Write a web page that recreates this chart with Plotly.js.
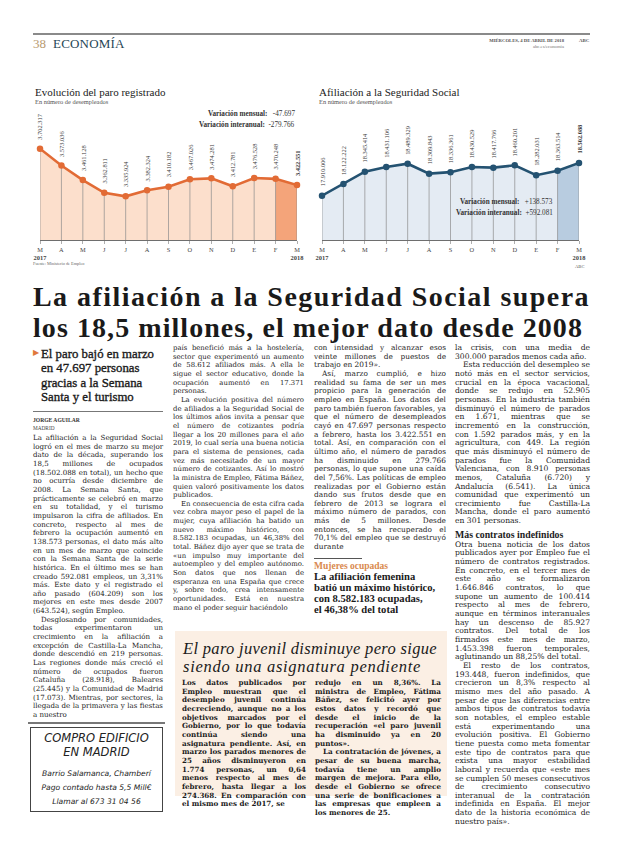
<!DOCTYPE html>
<html lang="es"><head><meta charset="utf-8">
<script src="https://cdn.plot.ly/plotly-3.0.1.min.js"></script>
<style>
html,body{margin:0;padding:0;background:#fff;}
body{width:620px;height:846px;position:relative;overflow:hidden;font-family:'Liberation Serif',serif;color:#222;}
.abs{position:absolute;}
.col{position:absolute;font-family:'DejaVu Serif',serif;font-size:7.05px;line-height:8.65px;text-align:justify;hyphens:auto;-webkit-hyphens:auto;color:#1c1c1c;}
.col p{margin:0;text-indent:8px;}
.col p.ni{text-indent:0;}
.fit{white-space:nowrap;position:absolute;}
.chart{position:absolute;}
</style></head><body>

<!-- header -->
<div class="abs" style="left:33px;top:33px;width:557px;height:1.5px;background:#8a8a8a;"></div>
<div class="abs" style="left:33px;top:36px;font-size:13px;color:#b89a6e;">38</div>
<div class="abs" style="left:53px;top:36px;font-size:13px;color:#1f4656;letter-spacing:0.2px;">ECONOMÍA</div>
<div class="abs" style="left:465px;top:38px;width:99px;text-align:right;font-size:4.7px;font-weight:bold;color:#555;">MIÉRCOLES, 4 DE ABRIL DE 2018</div>
<div class="abs" style="left:579px;top:38px;font-size:4.9px;font-weight:bold;color:#555;">ABC</div>
<div class="abs" style="left:465px;top:44px;width:99px;text-align:right;font-size:4.7px;color:#777;">abc.es/economia</div>

<div id="c1" class="chart" style="left:0;top:80px;width:310px;height:190px;"></div>
<div id="c2" class="chart" style="left:310px;top:80px;width:310px;height:190px;"></div>
<div class="abs" style="left:33px;top:261px;font-size:4.3px;color:#666;">Fuente: Ministerio de Empleo</div>

<!-- headline -->
<div class="fit" data-w="557" style="left:33px;top:281px;font-weight:bold;font-size:28px;line-height:31px;color:#1a1a1a;">La afiliación a la Seguridad Social supera</div>
<div class="fit" data-w="550" style="left:33px;top:312px;font-weight:bold;font-size:28px;line-height:31px;color:#1a1a1a;">los 18,5 millones, el mejor dato desde 2008</div>

<!-- subhead -->
<div class="abs" style="left:33px;top:348px;font-size:8px;color:#e0783c;">&#9654;</div>
<div class="abs" style="left:41px;top:347px;width:124px;font-size:12.8px;line-height:14.4px;color:#1a1a1a;-webkit-text-stroke:0.35px #1a1a1a;">El paro bajó en marzo<br>en 47.697 personas<br>gracias a la Semana<br>Santa y el turismo</div>
<div class="abs" style="left:33px;top:411px;width:130px;height:1px;background:#777;"></div>
<div class="abs" style="left:33px;top:417px;font-size:5.6px;font-weight:bold;color:#333;">JORGE AGUILAR</div>
<div class="abs" style="left:33px;top:425px;font-size:5.3px;color:#444;">MADRID</div>

<div class="col" style="left:33px;top:434px;width:130px;">
<p class="ni">La afiliación a la Seguridad Social logró en el mes de marzo su mejor dato de la década, superando los 18,5 millones de ocupados (18.502.088 en total), un hecho que no ocurría desde diciembre de 2008. La Semana Santa, que prácticamente se celebró en marzo en su totalidad, y el turismo impulsaron la cifra de afiliados. En concreto, respecto al mes de febrero la ocupación aumentó en 138.573 personas, el dato más alto en un mes de marzo que coincide con la Semana Santa de la serie histórica. En el último mes se han creado 592.081 empleos, un 3,31% más. Este dato y el registrado el año pasado (604.209) son los mejores en este mes desde 2007 (643.524), según Empleo.</p>
<p>Desglosando por comunidades, todas experimentaron un crecimiento en la afiliación a excepción de Castilla-La Mancha, donde descendió en 219 personas. Las regiones donde más creció el número de ocupados fueron Cataluña (28.918), Baleares (25.445) y la Comunidad de Madrid (17.073). Mientras, por sectores, la llegada de la primavera y las fiestas a nuestro</p>
</div>

<div class="col" style="left:173px;top:344px;width:131px;font-size:6.9px;">
<p class="ni">país benefició más a la hostelería, sector que experimentó un aumento de 58.612 afiliados más. A ella le sigue el sector educativo, donde la ocupación aumentó en 17.371 personas.</p>
<p>La evolución positiva del número de afiliados a la Seguridad Social de los últimos años invita a pensar que el número de cotizantes podría llegar a los 20 millones para el año 2019, lo cual sería una buena noticia para el sistema de pensiones, cada vez más necesitado de un mayor número de cotizantes. Así lo mostró la ministra de Empleo, Fátima Báñez, quien valoró positivamente los datos publicados.</p>
<p>En consecuencia de esta cifra cada vez cobra mayor peso el papel de la mujer, cuya afiliación ha batido un nuevo máximo histórico, con 8.582.183 ocupadas, un 46,38% del total. Báñez dijo ayer que se trata de «un impulso muy importante del autoempleo y del empleo autónomo. Son datos que nos llenan de esperanza en una España que crece y, sobre todo, crea intensamente oportunidades. Está en nuestra mano el poder seguir haciéndolo</p>
</div>

<div class="col" style="left:314px;top:344px;width:132px;font-size:7.4px;">
<p class="ni">con intensidad y alcanzar esos veinte millones de puestos de trabajo en 2019».</p>
<p>Así, marzo cumplió, e hizo realidad su fama de ser un mes propicio para la generación de empleo en España. Los datos del paro también fueron favorables, ya que el número de desempleados cayó en 47.697 personas respecto a febrero, hasta los 3.422.551 en total. Así, en comparación con el último año, el número de parados ha disminuido en 279.766 personas, lo que supone una caída del 7,56%. Las políticas de empleo realizadas por el Gobierno están dando sus frutos desde que en febrero de 2013 se lograra el máximo número de parados, con más de 5 millones. Desde entonces, se ha recuperado el 70,1% del empleo que se destruyó durante</p>
</div>
<div class="abs" style="left:314px;top:558px;width:48px;height:1px;background:#555;"></div>
<div class="abs" style="left:314px;top:561px;font-size:9.5px;font-weight:bold;color:#d9894e;">Mujeres ocupadas</div>
<div class="abs" style="left:314px;top:571px;width:135px;font-size:10.6px;line-height:11px;font-weight:bold;color:#1a1a1a;">La afiliación femenina<br>batió un máximo histórico,<br>con 8.582.183 ocupadas,<br>el 46,38% del total</div>

<div class="col" style="left:455px;top:344px;width:135px;font-size:7.6px;">
<p class="ni">la crisis, con una media de 300.000 parados menos cada año.</p>
<p>Esta reducción del desempleo se notó más en el sector servicios, crucial en la época vacacional, donde se redujo en 52.905 personas. En la industria también disminuyó el número de parados en 1.671, mientras que se incrementó en la construcción, con 1.592 parados más, y en la agricultura, con 449. La región que más disminuyó el número de parados fue la Comunidad Valenciana, con 8.910 personas menos, Cataluña (6.720) y Andalucía (6.541). La única comunidad que experimentó un crecimiento fue Castilla-La Mancha, donde el paro aumentó en 301 personas.</p>
<p class="ni" style="font-family:'Liberation Serif';font-weight:bold;font-size:9.8px;line-height:12px;margin-top:3px;">Más contratos indefinidos</p>
<p class="ni">Otra buena noticia de los datos publicados ayer por Empleo fue el número de contratos registrados. En concreto, en el tercer mes de este año se formalizaron 1.646.846 contratos, lo que supone un aumento de 100.414 respecto al mes de febrero, aunque en términos interanuales hay un descenso de 85.927 contratos. Del total de los firmados este mes de marzo, 1.453.398 fueron temporales, aglutinando un 88,25% del total.</p>
<p>El resto de los contratos, 193.448, fueron indefinidos, que crecieron un 8,3% respecto al mismo mes del año pasado. A pesar de que las diferencias entre ambos tipos de contratos todavía son notables, el empleo estable está experimentando una evolución positiva. El Gobierno tiene puesta como meta fomentar este tipo de contratos para que exista una mayor estabilidad laboral y recuerda que «este mes se cumplen 50 meses consecutivos de crecimiento consecutivo interanual de la contratación indefinida en España. El mejor dato de la historia económica de nuestro país».</p>
</div>

<!-- box -->
<div class="abs" style="left:175px;top:631px;width:272px;height:165px;background:#fbefe4;"></div>
<div class="fit" data-w="254" style="left:183px;top:640px;font-style:italic;font-size:16.5px;line-height:18px;color:#1a1a1a;">El paro juvenil disminuye pero sigue</div>
<div class="fit" data-w="238" style="left:183px;top:658px;font-style:italic;font-size:16.5px;line-height:18px;color:#1a1a1a;">siendo una asignatura pendiente</div>
<div class="col" style="left:182px;top:679px;width:124px;font-weight:bold;font-size:7.15px;">
<p class="ni">Los datos publicados por Empleo muestran que el desempleo juvenil continúa decreciendo, aunque no a los objetivos marcados por el Gobierno, por lo que todavía continúa siendo una asignatura pendiente. Así, en marzo los parados menores de 25 años disminuyeron en 1.774 personas, un 0,64 menos respecto al mes de febrero, hasta llegar a los 274.368. En comparación con el mismo mes de 2017, se</p>
</div>
<div class="col" style="left:315px;top:679px;width:126px;font-weight:bold;font-size:7.15px;">
<p class="ni">redujo en un 8,36%. La ministra de Empleo, Fátima Báñez, se felicitó ayer por estos datos y recordó que desde el inicio de la recuperación «el paro juvenil ha disminuido ya en 20 puntos».</p>
<p>La contratación de jóvenes, a pesar de su buena marcha, todavía tiene un amplio margen de mejora. Para ello, desde el Gobierno se ofrece una serie de bonificaciones a las empresas que empleen a los menores de 25.</p>
</div>

<!-- ad -->
<div class="abs" style="left:28px;top:722px;width:137px;height:1.5px;background:#777;"></div>
<div class="abs" style="left:30px;top:727px;width:133px;height:85px;border:1.5px solid #444;box-sizing:border-box;"></div>
<div class="abs" style="left:30px;top:731px;width:133px;text-align:center;font-family:'DejaVu Sans';font-style:italic;font-size:11.5px;line-height:14px;color:#222;">COMPRO EDIFICIO<br>EN MADRID</div>
<div class="abs" style="left:30px;top:767px;width:133px;text-align:center;font-family:'DejaVu Sans';font-style:italic;font-size:7.6px;line-height:14px;color:#222;">Barrio Salamanca, Chamberí<br>Pago contado hasta 5,5 Mill€<br>Llamar al 673 31 04 56</div>

<script>
// ---------- data ----------
const monthTicks = ['M<br><b>2017</b>','A','M','J','J','A','S','O','N','D','E','F','M<br><b>2018</b>'];
const paroValues = [3702317, 3573036, 3461128, 3362811, 3335924, 3382324, 3410182, 3467026, 3474281, 3412781, 3476528, 3470248, 3422551];
const afiliacionValues = [17910006, 18122222, 18345414, 18431106, 18489329, 18309843, 18336361, 18430529, 18417766, 18460201, 18282031, 18363514, 18502088];
const paroVariacion = ['-47.697', '-279.766'];
const afiliacionVariacion = ['+138.573', '+592.081'];
const paroRange = [3000000, 4000000];
const afiliacionRange = [17110000, 19460000];

function fmt(v){ return String(v).replace(/\B(?=(\d{3})+(?!\d))/g, '.'); }
const FONT = 'Liberation Serif, serif';

function build(div, values, range, c, variacion, varPos, title, sub, titleX, mar, extra){
  const idx = values.map((_, i) => i);
  const n = values.length;
  const traces = [
    {x: idx, y: values, type:'scatter', mode:'lines', fill:'tozeroy', fillcolor:c.fill, line:{width:0}, hoverinfo:'skip'},
    {x: idx.slice(n-2), y: values.slice(n-2), type:'scatter', mode:'lines', fill:'tozeroy', fillcolor:c.hi, line:{width:0}, hoverinfo:'skip'},
    {x: idx, y: values, type:'scatter', mode:'markers', marker:{size:0.1, opacity:0},
      error_y:{type:'data', symmetric:false, array: values.map(() => 0), arrayminus: values.map(v => v - range[0]), width:0, thickness:0.7, color:'#8c8c8c'}},
    {x: idx, y: values, type:'scatter', mode:'lines+markers', line:{color:c.line, width:2.6}, marker:{color:c.line, size:6.5}, cliponaxis:false}
  ];
  const ann = values.map((v, i) => ({
    x:i, y:v, xref:'x', yref:'y', text: i === n-1 ? '<b>'+fmt(v)+'</b>' : fmt(v), textangle:-90,
    showarrow:false, xanchor:'center', yanchor:'bottom', yshift:7,
    font:{family:FONT, size:6.4, color:'#3a3a3a'}
  }));
  ann.push({xref:'paper', yref:'paper', x:titleX, y:1.135, xanchor:'left', yanchor:'middle', showarrow:false,
    text:title, font:{family:FONT, size:11, color:'#222'}});
  ann.push({xref:'paper', yref:'paper', x:titleX, y:1.065, xanchor:'left', yanchor:'middle', showarrow:false,
    text:sub, font:{family:FONT, size:6.4, color:'#555'}});
  ann.push({xref:'paper', yref:'paper', x:varPos[0], y:varPos[1], xanchor:'right', yanchor:'middle', showarrow:false, align:'right',
    text:'<b>Variación mensual:</b>   '+variacion[0], font:{family:FONT, size:7.2, color:'#333'}});
  ann.push({xref:'paper', yref:'paper', x:varPos[0], y:varPos[1]-0.085, xanchor:'right', yanchor:'middle', showarrow:false, align:'right',
    text:'<b>Variación interanual:</b>  '+variacion[1], font:{family:FONT, size:7.2, color:'#333'}});
  (extra || []).forEach(a => ann.push(a));
  const layout = {
    width:310, height:190, margin:mar, paper_bgcolor:'rgba(0,0,0,0)', plot_bgcolor:'rgba(0,0,0,0)', showlegend:false,
    xaxis:{range:[0, n-1], tickmode:'array', tickvals: idx, ticktext: monthTicks, showgrid:false, zeroline:false,
      showline:true, linecolor:'#6e6e6e', linewidth:1, ticks:'outside', ticklen:3, tickcolor:'#8c8c8c', tickwidth:0.7,
      tickfont:{family:FONT, size:6.4, color:'#444'}, fixedrange:true},
    yaxis:{range: range, visible:false, fixedrange:true},
    annotations: ann
  };
  return Plotly.newPlot(div, traces, layout, {staticPlot:true, displayModeBar:false});
}

build('c1', paroValues, paroRange, {fill:'#fcdfcc', hi:'#f4a47a', line:'#e26b35'}, paroVariacion, [1.0, 0.97],
  'Evolución del paro registrado', 'En número de desempleados', -0.027, {l:40, r:13, t:30, b:30});
build('c2', afiliacionValues, afiliacionRange, {fill:'#e4ebf3', hi:'#b8cce0', line:'#245271'}, afiliacionVariacion, [0.905, 0.29],
  'Afiliación a la Seguridad Social', 'En número de desempleados', -0.019, {l:12, r:41, t:30, b:30},
  [{xref:'paper', yref:'paper', x:1.0, y:-0.2, xanchor:'center', yanchor:'middle', showarrow:false,
    text:'ABC', font:{family:FONT, size:4.6, color:'#555'}}]);

function fitAll(){
  document.querySelectorAll('.fit').forEach(el => {
    const target = +el.dataset.w;
    const w = el.getBoundingClientRect().width;
    const n = el.textContent.length;
    el.style.letterSpacing = ((target - w) / n) + 'px';
  });
}
(document.fonts ? document.fonts.ready : Promise.resolve()).then(fitAll);
</script>
</body></html>
